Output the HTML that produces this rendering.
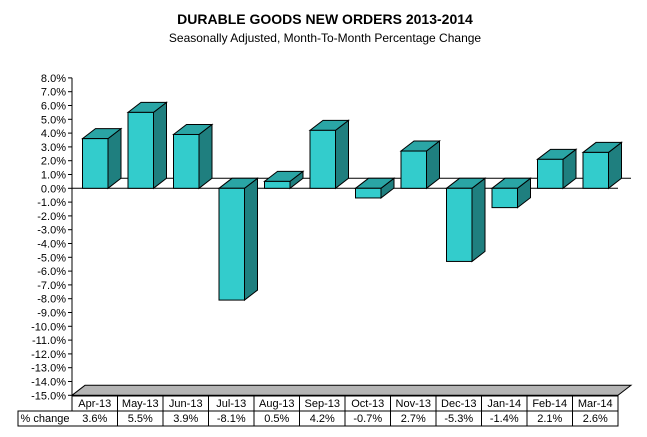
<!DOCTYPE html>
<html><head><meta charset="utf-8"><style>
body{margin:0;background:#fff;}
svg{display:block;font-family:"Liberation Sans",Arial,sans-serif;}
</style></head><body>
<svg id="chart" width="647" height="437" viewBox="0 0 647 437" xmlns="http://www.w3.org/2000/svg">
<text x="325" y="24" text-anchor="middle" font-size="14" font-weight="bold">DURABLE GOODS NEW ORDERS 2013-2014</text>
<text x="325" y="42" text-anchor="middle" font-size="12">Seasonally Adjusted,  Month-To-Month  Percentage  Change</text>
<g id="g"></g>
</svg>
<script>
const categories=["Apr-13","May-13","Jun-13","Jul-13","Aug-13","Sep-13","Oct-13","Nov-13","Dec-13","Jan-14","Feb-14","Mar-14"];
const values=[3.6,5.5,3.9,-8.1,0.5,4.2,-0.7,2.7,-5.3,-1.4,2.1,2.6];
const valueLabels=["3.6%","5.5%","3.9%","-8.1%","0.5%","4.2%","-0.7%","2.7%","-5.3%","-1.4%","2.1%","2.6%"];
const ticks=[8,7,6,5,4,3,2,1,0,-1,-2,-3,-4,-5,-6,-7,-8,-9,-10,-11,-12,-13,-14,-15];

const NS="http://www.w3.org/2000/svg";
const g=document.getElementById('g');
const X0=72,X1=618,Y0=188.3,PPU=13.8,DX=13,DY=10;
const cw=(X1-X0)/categories.length;
function y(v){return Y0-v*PPU;}
function xc(i){return X0+i*cw;}
function mk(t,a,p){const e=document.createElementNS(NS,t);for(const k in a)e.setAttribute(k,a[k]);(p||g).appendChild(e);return e;}
const yb=y(-15);
// floor
let fl=mk('polygon',{points:`${X0},${yb} ${X0+DX},${yb-DY} ${X1+DX},${yb-DY} ${X1},${yb}`,fill:'#b4b4b4',stroke:'#000','stroke-width':1});


// back zero line
let bl=mk('line',{x1:X0+DX,y1:Y0-DY,x2:X1+DX,y2:Y0-DY,stroke:'#000','stroke-width':1});


let fl0=mk('line',{x1:X0,y1:Y0,x2:X1,y2:Y0,stroke:'#000','stroke-width':1});


// axis
let ax=mk('line',{x1:X0,y1:y(8),x2:X0,y2:yb,stroke:'#000','stroke-width':1});


ticks.forEach(t=>{
  let l=mk('line',{x1:X0-4,y1:y(t),x2:X0,y2:y(t),stroke:'#000'});
  
  
  let tx=mk('text',{x:X0-6,y:y(t)+4,'text-anchor':'end','font-size':11});
  tx.textContent=t.toFixed(1)+'%';
  
  
});
// bars
values.forEach((v,i)=>{
  const bx=xc(i)+10.5,bw=25.5;
  const top=Math.min(y(v),Y0),bot=Math.max(y(v),Y0);
  const bg=mk('g',{});
  
  
  mk('polygon',{points:`${bx+bw},${top} ${bx+bw+DX},${top-DY} ${bx+bw+DX},${bot-DY} ${bx+bw},${bot}`,fill:'#1f7f7f',stroke:'#000','stroke-width':1},bg);
  mk('polygon',{points:`${bx},${top} ${bx+DX},${top-DY} ${bx+bw+DX},${top-DY} ${bx+bw},${top}`,fill:'#2aa5a5',stroke:'#000','stroke-width':1},bg);
  mk('rect',{x:bx,y:top,width:bw,height:bot-top,fill:'#33cccc',stroke:'#000','stroke-width':1},bg);
});
// table
const tT=396,tM=411,tB=426,lx=18;
let tb=mk('g',{});


mk('path',{d:`M${X0},${tT}H${X1}V${tB}H${lx}V${tM}H${X1}M${lx},${tM}H${X0}V${tT}`,fill:'none',stroke:'#000','stroke-width':1},tb);
let lt=mk('text',{x:(lx+X0)/2,y:tB-4,'text-anchor':'middle','font-size':11},tb);
lt.textContent='% change';


categories.forEach((c,i)=>{
  if(i>0) mk('line',{x1:xc(i),y1:tT,x2:xc(i),y2:tB,stroke:'#000'},tb);
  let t1=mk('text',{x:xc(i)+cw/2,y:tM-4,'text-anchor':'middle','font-size':11},tb);
  t1.textContent=c;
  
  
  let t2=mk('text',{x:xc(i)+cw/2,y:tB-4,'text-anchor':'middle','font-size':11},tb);
  t2.textContent=valueLabels[i];
  
  
});
</script>
</body></html>
